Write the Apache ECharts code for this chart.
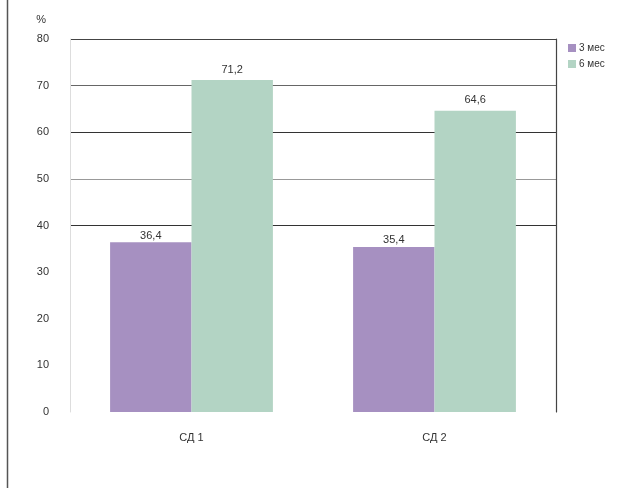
<!DOCTYPE html>
<html>
<head>
<meta charset="utf-8">
<style>
  html, body { margin: 0; padding: 0; background: #fff; }
  #chart { width: 627px; height: 488px; }
</style>
<script src="https://cdn.jsdelivr.net/npm/echarts@6/dist/echarts.min.js"></script>
</head>
<body>
<div id="chart"></div>
<script>
// Share of patients (%) at 3 and 6 months, by diabetes type
const categories = ['СД 1', 'СД 2'];
const seriesNames = ['3 мес', '6 мес'];
const months3 = [36.4, 35.4];
const months6 = [71.2, 64.6];
const yTicks = { min: 0, max: 80, step: 10 };

const FONT = '"Liberation Sans", Arial, sans-serif';
const PURPLE = '#a690c1';
const GREEN = '#b3d4c4';

// grid lines: 0..30 hidden, 40/60/80 dark, 50/70 lighter
const splitColors = ['rgba(0,0,0,0)', 'rgba(0,0,0,0)', 'rgba(0,0,0,0)', 'rgba(0,0,0,0)',
  '#333', '#999', '#333', '#666', '#444'];

const commaLabel = p => String(p.value).replace('.', ',');

const chart = echarts.init(document.getElementById('chart'), null, { renderer: 'canvas' });
chart.setOption({
  animation: false,
  backgroundColor: '#fff',
  textStyle: { fontFamily: FONT },
  grid: { left: 70, right: 71, top: 39, bottom: 76, containLabel: false },
  legend: {
    orient: 'vertical',
    left: 563,
    top: 38,
    itemWidth: 8,
    itemHeight: 8,
    itemGap: 6,
    icon: 'rect',
    data: seriesNames,
    textStyle: { fontSize: 10, color: '#333', fontFamily: FONT, padding: [0, 0, 0, -2] }
  },
  xAxis: {
    type: 'category',
    data: categories,
    axisLine: { show: false },
    axisTick: { show: false },
    axisLabel: { color: '#333', fontSize: 11, margin: 20, fontFamily: FONT }
  },
  yAxis: [
    {
      type: 'value',
      min: yTicks.min,
      max: yTicks.max,
      interval: yTicks.step,
      name: '%',
      nameLocation: 'end',
      nameGap: 14,
      nameTextStyle: { color: '#333', fontSize: 11, align: 'right', padding: [0, 24, 0, 0] },
      axisLine: { show: true, lineStyle: { color: '#ddd', width: 1 } },
      axisTick: { show: false },
      axisLabel: { color: '#333', fontSize: 11, margin: 21, fontFamily: FONT },
      splitLine: { show: true, lineStyle: { color: splitColors, width: 1.2 } }
    },
    {
      type: 'value',
      position: 'right',
      min: yTicks.min,
      max: yTicks.max,
      interval: yTicks.step,
      axisLine: { show: true, lineStyle: { color: '#444', width: 1.2 } },
      axisTick: { show: false },
      axisLabel: { show: false },
      splitLine: { show: false }
    }
  ],
  series: [
    {
      name: seriesNames[0],
      type: 'bar',
      data: months3,
      barGap: '0%',
      barCategoryGap: '33%',
      itemStyle: { color: PURPLE },
      label: { show: true, position: 'top', distance: 1, color: '#333', fontSize: 11, formatter: commaLabel }
    },
    {
      name: seriesNames[1],
      type: 'bar',
      data: months6,
      barGap: '0%',
      barCategoryGap: '33%',
      itemStyle: { color: GREEN },
      label: { show: true, position: 'top', distance: 5, color: '#333', fontSize: 11, formatter: commaLabel }
    }
  ],
  graphic: [
    {
      type: 'line',
      shape: { x1: 7.5, y1: 0, x2: 7.5, y2: 488 },
      style: { stroke: '#555', lineWidth: 1.5 }
    }
  ]
});
</script>
</body>
</html>
